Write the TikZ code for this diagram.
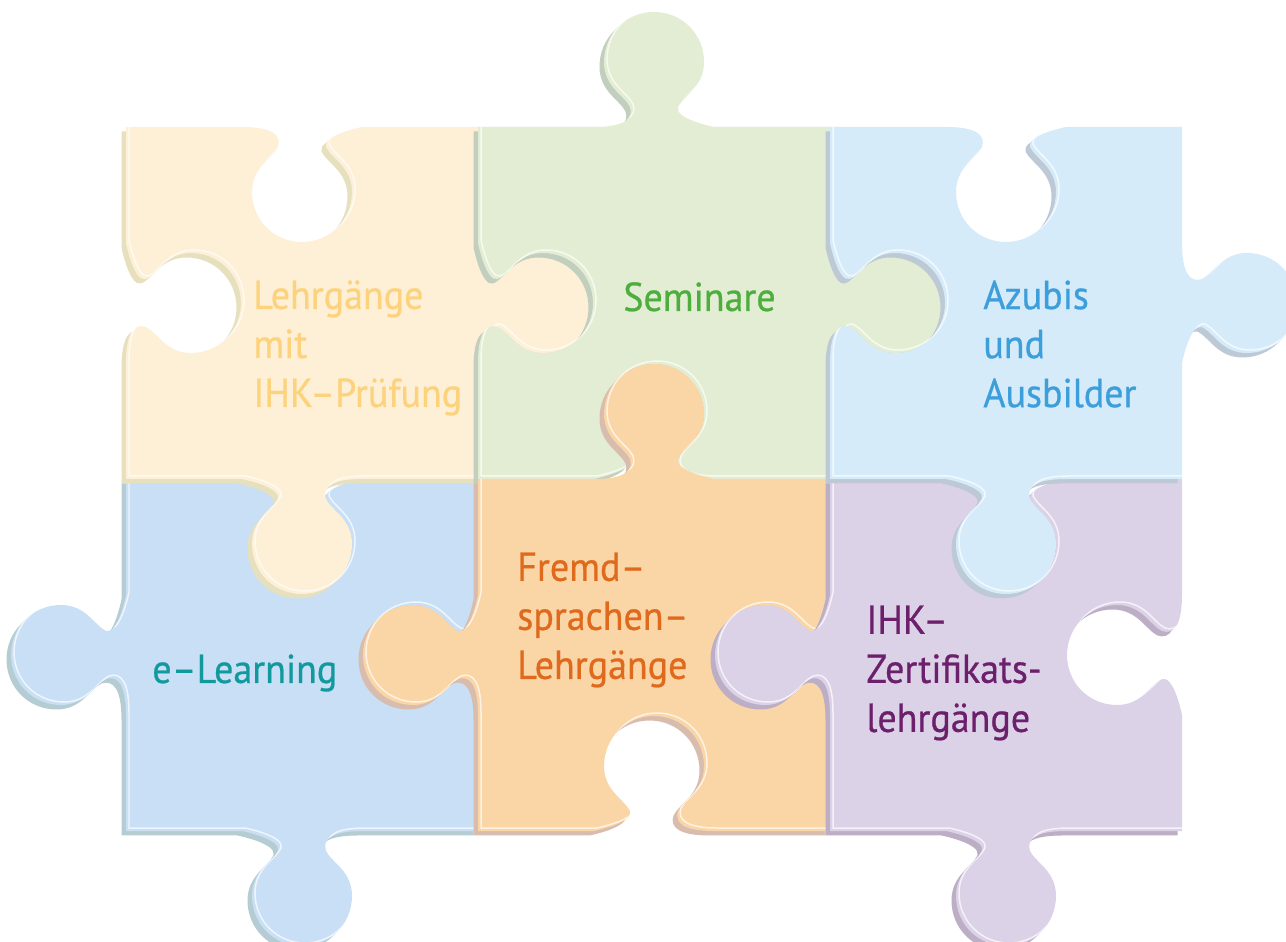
\documentclass[tikz,border=0pt]{standalone}
\usepackage{fontspec}
\setmainfont{PT Sans}
\newfontface\pzfont[FakeBold=0.6,FakeStretch=0.94]{PT Sans}
\usetikzlibrary{calc}
\definecolor{yel}{HTML}{FEF0D6}
\definecolor{yelS}{HTML}{E6E0BE}
\definecolor{yelT}{HTML}{FDD27C}
\definecolor{grn}{HTML}{E3EDD3}
\definecolor{grnS}{HTML}{C2CEBE}
\definecolor{grnT}{HTML}{4DAE3E}
\definecolor{lbl}{HTML}{D6EBF9}
\definecolor{lblS}{HTML}{BDCAD6}
\definecolor{lblT}{HTML}{3C9FDB}
\definecolor{blu}{HTML}{C8DFF5}
\definecolor{bluS}{HTML}{B5CDD2}
\definecolor{bluT}{HTML}{11999E}
\definecolor{org}{HTML}{FAD5A6}
\definecolor{orgS}{HTML}{D8BDAE}
\definecolor{orgT}{HTML}{DF6A1D}
\definecolor{pur}{HTML}{DCD2E8}
\definecolor{purS}{HTML}{BCAEC4}
\definecolor{purT}{HTML}{6C1F6B}
\newcommand\kp[2]{($(\tikztostart)!#1!(\tikztotarget)!#2!90:(\tikztotarget)$)}

\begin{document}
\begin{tikzpicture}[%
  x=0.02cm, y=-0.02cm,
  knob/.style={to path={
    -- \kp{.3295}{0cm}
    .. controls \kp{.4148}{0cm} and \kp{.4432}{#1*0.16cm} .. \kp{.4318}{#1*0.4cm}
    .. controls \kp{.4148}{#1*0.64cm} and \kp{.358}{#1*0.8cm} .. \kp{.358}{#1*1.3cm}
    .. controls \kp{.358}{#1*1.86cm} and \kp{.4205}{#1*2.3cm} .. \kp{.5}{#1*2.3cm}
    .. controls \kp{.5795}{#1*2.3cm} and \kp{.642}{#1*1.86cm} .. \kp{.642}{#1*1.3cm}
    .. controls \kp{.642}{#1*0.8cm} and \kp{.5852}{#1*0.64cm} .. \kp{.5682}{#1*0.4cm}
    .. controls \kp{.5568}{#1*0.16cm} and \kp{.6705}{0cm} .. \kp{.6705}{0cm}
    -- (\tikztotarget)}},
  ptext/.style={inner sep=0pt, align=left, anchor=west,
    font=\pzfont\fontsize{23}{27.9}\selectfont}]
\useasboundingbox (0,0) rectangle (1286,942);
\clip (0,0) rectangle (1286,942);
\fill[white] (0,0) rectangle (1286,942);
\foreach \i/\x in {0/126,1/478,2/830,3/1182}
  \foreach \j/\y in {0/127,1/479,2/831}
    \coordinate (c\i\j) at (\x,\y);
\foreach \i/\j/\et/\er/\eb/\el/\col in {0/1/-1/-1/1/1/blu, 0/0/-1/1/1/-1/yel,
    1/0/1/1/-1/-1/grn, 1/1/1/-1/-1/1/org, 2/1/-1/-1/1/1/pur, 2/0/-1/1/1/-1/lbl}{
  \pgfmathtruncatemacro\ii{\i+1}
  \pgfmathtruncatemacro\jj{\j+1}
  \def\pzpath{(c\i\j) to[knob=\et] (c\ii\j) to[knob=\er] (c\ii\jj)
    to[knob=\eb] (c\i\jj) to[knob=\el] (c\i\j) -- cycle}
  \fill[fill=\col S, transform canvas={xshift=-0.09cm, yshift=-0.09cm}] \pzpath;
  \fill[fill=\col] \pzpath;
  \begin{scope}
    \clip \pzpath;
    \draw[white, opacity=.7, line width=0.03cm,
      transform canvas={xshift=0.06cm, yshift=0.06cm}] \pzpath;
  \end{scope}
}
\node[ptext, text=yelT] (lehrgaenge) at (253,348) {Lehrgänge\\mit\\IHK–Prüfung};
\node[ptext, text=grnT, anchor=base west] (seminare) at (623,311) {Seminare};
\node[ptext, text=lblT] (azubis) at (983,344) {Azubis\\und\\Ausbilder};
\node[ptext, text=bluT, anchor=base west] (elearning) at (152,683) {e–Learning};
\node[ptext, text=orgT] (fremd) at (517,620) {Fremd–\\sprachen–\\Lehrgänge};
\node[ptext, text=purT] (zertifikat) at (866,673) {IHK–\\Zertifikats-\\lehrgänge};
\end{tikzpicture}
\end{document}
